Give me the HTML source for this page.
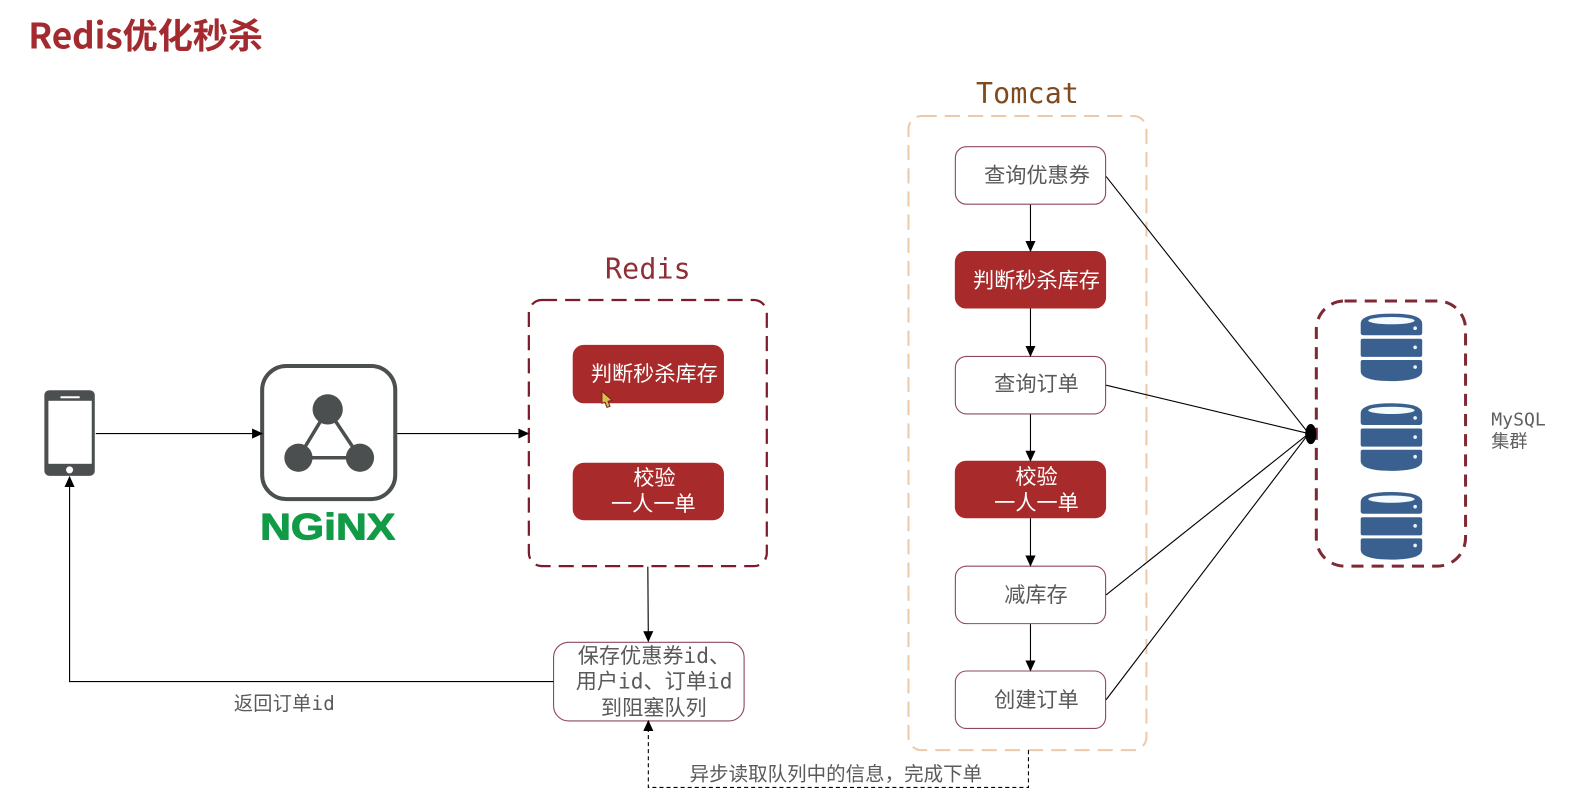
<!DOCTYPE html>
<html><head><meta charset="utf-8"><style>
html,body{margin:0;padding:0;background:#fff;width:1581px;height:792px;overflow:hidden}
svg{display:block}
text{font-family:"DejaVu Sans Mono","Noto Sans CJK SC",monospace}
.t{font-size:21px;fill:#5a5a5a}
.w{font-size:21px;fill:#fff}
.box{fill:#fff;stroke:#8e4a5a;stroke-width:1.1}
.red{fill:#a82a2a}
.ln{stroke:#000;stroke-width:1.1;fill:none}
.db{fill:#3a6090}
</style></head><body>
<svg width="1581" height="792" viewBox="0 0 1568 785.5" preserveAspectRatio="none" xmlns="http://www.w3.org/2000/svg">
<defs>
<marker id="a" markerWidth="11" markerHeight="10" refX="10" refY="5" orient="auto" markerUnits="userSpaceOnUse"><path d="M0 0L11 5L0 10z" fill="#000"/></marker>
<g id="cyl">
<path class="db" d="M0 10Q0 0 30.5 0Q61 0 61 10V19Q61 21.500 58 21.500H3Q0 21.500 0 19z"/>
<ellipse cx="30.5" cy="7" rx="23" ry="3.6" fill="#f4fbff"/>
<circle cx="54" cy="14.500" r="1.8" fill="#e8f4ff"/>
<rect class="db" x="0" y="25" width="61" height="18" rx="2"/>
<circle cx="54" cy="33.500" r="1.8" fill="#e8f4ff"/>
<path class="db" d="M2 46H59Q61 46 61 48V57Q61 67 30.5 67Q0 67 0 57V48Q0 46 2 46z"/>
<circle cx="54" cy="53" r="1.8" fill="#e8f4ff"/>
</g>
</defs>

<text x="28" y="48" style="font-family:'Noto Sans CJK SC',sans-serif;font-weight:700;font-size:35px;fill:#a32a2e" textLength="233">Redis优化秒杀</text>

<!-- phone -->
<rect x="44" y="387" width="50" height="85" rx="5" fill="#4b4f50"/>
<rect x="48" y="397.500" width="43" height="62.500" fill="#fff"/>
<rect x="60" y="393" width="19" height="2" fill="#fff"/>
<circle cx="69" cy="466" r="3.500" fill="#fff"/>

<!-- nginx -->
<rect x="260" y="363" width="132" height="132" rx="24" fill="#fff" stroke="#4b4f50" stroke-width="4"/>
<path d="M325 406L296 454H357z" fill="none" stroke="#4b4f50" stroke-width="3.500"/>
<circle cx="325" cy="406" r="15" fill="#4b4f50"/>
<circle cx="296" cy="454" r="14" fill="#4b4f50"/>
<circle cx="357" cy="454" r="14" fill="#4b4f50"/>
<text x="325" y="535" text-anchor="middle" textLength="134" lengthAdjust="spacingAndGlyphs" style="font-family:'Liberation Sans',sans-serif;font-weight:700;font-size:37px;fill:#119b46;stroke:#119b46;stroke-width:1;stroke-linejoin:round">NGiNX</text>

<!-- Redis group -->
<text x="600" y="276" style="font-size:28px;fill:#8e2f36" textLength="85">Redis</text>
<rect x="524.500" y="297.500" width="236" height="264" rx="13" fill="none" stroke="#7d1a2c" stroke-width="2.200" stroke-dasharray="15 8"/>
<rect class="red" x="568" y="342" width="150" height="58" rx="11"/>
<text class="w" x="586" y="378">判断秒杀库存</text>
<rect class="red" x="568" y="459" width="150" height="57" rx="11"/>
<text class="w" x="628" y="481">校验</text>
<text class="w" x="606" y="507">一人一单</text>
<path d="M597 388L597 400L600 399L602 404L605 403L603 398L607 397z" fill="#d9c04a" stroke="#7a2020" stroke-width="1"/>

<!-- Queue box -->
<rect class="box" x="549" y="637" width="189" height="78" rx="15"/>
<text class="t" x="573" y="657.500">保存优惠券id、</text>
<text class="t" x="571" y="683">用户id、订单id</text>
<text class="t" x="596" y="709">到阻塞队列</text>

<!-- Tomcat group -->
<text x="968" y="102" style="font-size:28px;fill:#7e4a1e" textLength="102">Tomcat</text>
<rect x="901" y="115" width="236" height="629" rx="13" fill="none" stroke="#ecc9a8" stroke-width="2" stroke-dasharray="15 8"/>

<rect class="box" x="947.500" y="145.500" width="149" height="57" rx="11"/>
<text class="t" x="976" y="181">查询优惠券</text>
<rect class="red" x="947" y="249" width="150" height="57" rx="11"/>
<text class="w" x="965" y="285">判断秒杀库存</text>
<rect class="box" x="947.500" y="353.500" width="149" height="57" rx="11"/>
<text class="t" x="986" y="388">查询订单</text>
<rect class="red" x="947" y="457" width="150" height="57" rx="11"/>
<text class="w" x="1007" y="480">校验</text>
<text class="w" x="986" y="506">一人一单</text>
<rect class="box" x="947.500" y="561.500" width="149" height="57" rx="11"/>
<text class="t" x="996" y="597">减库存</text>
<rect class="box" x="947.500" y="665.500" width="149" height="57" rx="11"/>
<text class="t" x="986" y="701">创建订单</text>

<!-- MySQL group -->
<rect x="1305.500" y="298.500" width="148" height="263" rx="28" fill="none" stroke="#7d2a35" stroke-width="3" stroke-dasharray="12 8"/>
<use href="#cyl" x="1349.500" y="311"/>
<use href="#cyl" x="1349.500" y="400"/>
<use href="#cyl" x="1349.500" y="488"/>
<text x="1479" y="422" style="font-size:18px;fill:#5f5f5f">MySQL</text>
<text x="1479" y="444" style="font-size:18px;fill:#5f5f5f">集群</text>

<!-- connectors -->
<path class="ln" d="M95 430H260" marker-end="url(#a)"/>
<path class="ln" d="M394 430H524" marker-end="url(#a)"/>
<path class="ln" d="M549 676H69V473" marker-end="url(#a)"/>
<path class="ln" d="M642.500 562L643 636" marker-end="url(#a)"/>
<path class="ln" d="M1022 203V249" marker-end="url(#a)"/>
<path class="ln" d="M1022 306V353" marker-end="url(#a)"/>
<path class="ln" d="M1022 411V457" marker-end="url(#a)"/>
<path class="ln" d="M1022 514V561" marker-end="url(#a)"/>
<path class="ln" d="M1022 619V665" marker-end="url(#a)"/>
<path class="ln" d="M1097 175L1298 430"/>
<path class="ln" d="M1097 382L1298 430"/>
<path class="ln" d="M1097 590L1298 430"/>
<path class="ln" d="M1097 694L1298 430"/>
<ellipse cx="1300" cy="430.500" rx="5.500" ry="10" fill="#000"/>
<path d="M1020 744V781H643V715" fill="none" stroke="#000" stroke-width="1.100" stroke-dasharray="4 3" marker-end="url(#a)"/>

<text x="232" y="704" style="font-size:19px;fill:#5a5a5a" textLength="100">返回订单id</text>
<text x="684" y="774" style="font-size:19.300px;fill:#5a5a5a" textLength="290">异步读取队列中的信息，完成下单</text>
</svg>
</body></html>
